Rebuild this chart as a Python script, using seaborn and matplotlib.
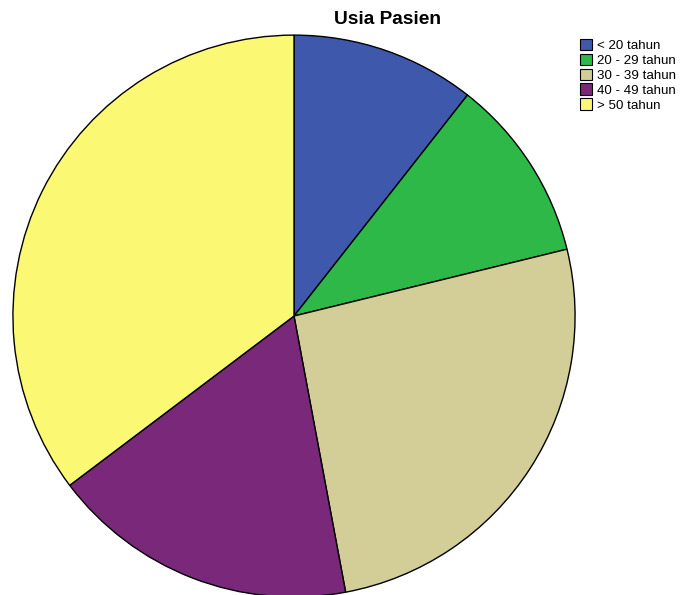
import matplotlib
matplotlib.use("Agg")
import matplotlib.pyplot as plt
import seaborn as sns

sns.set_style("white")
plt.rcParams['font.family'] = ['Liberation Sans', 'DejaVu Sans']
plt.rcParams['text.color'] = 'black'

# Patient age groups and counts
categories = ["< 20 tahun", "20 - 29 tahun", "30 - 39 tahun", "40 - 49 tahun", "> 50 tahun"]
counts = [9, 9, 22, 15, 30]
colors = ["#3E58AC", "#2EB848", "#D3CE97", "#7A287A", "#FBF873"]
palette = sns.color_palette(colors)

fig = plt.figure(figsize=(6.83, 5.95), dpi=100)
ax = fig.add_axes([0, 0, 1, 1])

wedges, _ = ax.pie(counts, colors=palette, startangle=90, counterclock=False,
                   radius=1.0, center=(0, 0),
                   wedgeprops=dict(edgecolor="black", linewidth=1.0))
ax.set_xlim(-1.046, 1.384)
ax.set_ylim(-0.993, 1.125)
ax.set_aspect("auto")
ax.axis("off")

fig.text(387 / 683, 1 - 20 / 595, "Usia Pasien", ha="center", va="center",
         fontsize=13.8, fontweight="bold", color="black")

leg = fig.legend(wedges, categories, loc="upper left",
                 bbox_to_anchor=(577 / 683, 1 - 36 / 595), frameon=False,
                 fontsize=9.6, handlelength=0.95, handleheight=0.95,
                 handletextpad=0.35, labelspacing=0.12, borderaxespad=0,
                 borderpad=0.2)
for t in leg.get_texts():
    t.set_color("black")
for h in leg.legend_handles:
    h.set_edgecolor("black")
    h.set_linewidth(0.8)

fig.savefig("out.png", dpi=100)
